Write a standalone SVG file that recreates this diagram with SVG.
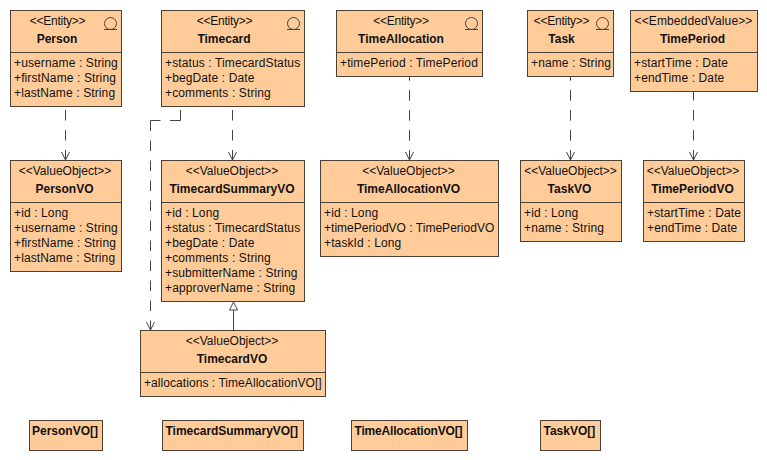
<svg xmlns="http://www.w3.org/2000/svg" width="767" height="460" viewBox="0 0 767 460">
<style>
.b{fill:#ffcc99;stroke:#4a4033;stroke-width:1}
.d{stroke:#4a4033;stroke-width:1;fill:none}
text{font-family:"Liberation Sans",Arial,sans-serif;font-size:12px;fill:#111}
.s{text-anchor:middle}
.e{letter-spacing:-.25px}
.n{text-anchor:middle;font-weight:bold}
.a{letter-spacing:.12px}
.m{font-weight:bold}
.c{stroke:#444;stroke-width:1;fill:none;stroke-dasharray:10.500 9.500}
.h{stroke:#444;stroke-width:1;fill:none}
.i{stroke:#444;stroke-width:1;fill:none}
</style>
<rect width="767" height="460" fill="#fff"/>
<g id="connectors">
<path class="c" d="M65.500 110V160"/><path class="h" d="M61.500 152L65.500 160L69.500 152"/>
<path class="c" d="M232.500 110V160"/><path class="h" d="M228.500 152L232.500 160L236.500 152"/>
<path class="c" d="M180.500 110V120.500M180.500 120.500H150.500M150.500 120.500V330"/><path class="h" d="M146.500 322L150.500 330L154.500 322"/>
<path class="c" stroke-dashoffset="6.800" d="M409.500 77V160"/><path class="h" d="M405.500 152L409.500 160L413.500 152"/>
<path class="c" stroke-dashoffset="6.800" d="M570.500 77V160"/><path class="h" d="M566.500 152L570.500 160L574.500 152"/>
<path class="c" stroke-dashoffset="2" d="M693.500 92V160"/><path class="h" d="M689.500 152L693.500 160L697.500 152"/>
<path class="h" d="M233.500 330V310"/><path d="M229.500 310L233.500 302L237.500 310Z" fill="#fff" stroke="#444"/>
</g>
<g id="person"><rect class="b" x="10.500" y="10.500" width="111" height="96"/><path class="d" d="M10.500 52.500H121.500"/><circle class="i" cx="110.500" cy="23.500" r="6"/><path class="i" d="M104 29.500H117"/><text class="s e" x="57.500" y="25">&lt;&lt;Entity&gt;&gt;</text><text class="n" x="57" y="43">Person</text><text class="a" x="14" y="67">+username : String</text><text class="a" x="14" y="82">+firstName : String</text><text class="a" x="14" y="97">+lastName : String</text></g>
<g id="timecard"><rect class="b" x="161.500" y="10.500" width="143" height="96"/><path class="d" d="M161.500 52.500H304.500"/><circle class="i" cx="293.500" cy="23.500" r="6"/><path class="i" d="M287 29.500H300"/><text class="s e" x="224.500" y="25">&lt;&lt;Entity&gt;&gt;</text><text class="n" x="224" y="43">Timecard</text><text class="a" x="165" y="67">+status : TimecardStatus</text><text class="a" x="165" y="82">+begDate : Date</text><text class="a" x="165" y="97">+comments : String</text></g>
<g id="timeallocation"><rect class="b" x="336.500" y="10.500" width="146" height="66"/><path class="d" d="M336.500 52.500H482.500"/><circle class="i" cx="471.500" cy="23.500" r="6"/><path class="i" d="M465 29.500H478"/><text class="s e" x="401" y="25">&lt;&lt;Entity&gt;&gt;</text><text class="n" x="401" y="43">TimeAllocation</text><text class="a" x="340" y="67">+timePeriod : TimePeriod</text></g>
<g id="task"><rect class="b" x="527.500" y="10.500" width="86" height="66"/><path class="d" d="M527.500 52.500H613.500"/><circle class="i" cx="602.500" cy="23.500" r="6"/><path class="i" d="M596 29.500H609"/><text class="s e" x="561.500" y="25">&lt;&lt;Entity&gt;&gt;</text><text class="n" x="561.500" y="43">Task</text><text class="a" x="531" y="67">+name : String</text></g>
<g id="timeperiod"><rect class="b" x="630.500" y="10.500" width="127" height="81"/><path class="d" d="M630.500 52.500H757.500"/><text class="s" x="693.500" y="25" letter-spacing=".12">&lt;&lt;EmbeddedValue&gt;&gt;</text><text class="n" x="692.500" y="43">TimePeriod</text><text class="a" x="634" y="67">+startTime : Date</text><text class="a" x="634" y="82">+endTime : Date</text></g>
<g id="personvo"><rect class="b" x="10.500" y="160.500" width="111" height="111"/><path class="d" d="M10.500 202.500H121.500"/><text class="s" x="65" y="175">&lt;&lt;ValueObject&gt;&gt;</text><text class="n" x="64.500" y="193">PersonVO</text><text class="a" x="14" y="217">+id : Long</text><text class="a" x="14" y="232">+username : String</text><text class="a" x="14" y="247">+firstName : String</text><text class="a" x="14" y="262">+lastName : String</text></g>
<g id="timecardsummaryvo"><rect class="b" x="161.500" y="160.500" width="143" height="141"/><path class="d" d="M161.500 202.500H304.500"/><text class="s" x="232" y="175">&lt;&lt;ValueObject&gt;&gt;</text><text class="n" x="232" y="193">TimecardSummaryVO</text><text class="a" x="165" y="217">+id : Long</text><text class="a" x="165" y="232">+status : TimecardStatus</text><text class="a" x="165" y="247">+begDate : Date</text><text class="a" x="165" y="262">+comments : String</text><text class="a" x="165" y="277">+submitterName : String</text><text class="a" x="165" y="292">+approverName : String</text></g>
<g id="timeallocationvo"><rect class="b" x="320.500" y="160.500" width="178" height="96"/><path class="d" d="M320.500 202.500H498.500"/><text class="s" x="408.500" y="175">&lt;&lt;ValueObject&gt;&gt;</text><text class="n" x="408.500" y="193">TimeAllocationVO</text><text class="a" x="324" y="217">+id : Long</text><text x="324" y="232" textLength="170.300">+timePeriodVO : TimePeriodVO</text><text class="a" x="324" y="247">+taskId : Long</text></g>
<g id="taskvo"><rect class="b" x="520.500" y="160.500" width="101" height="81"/><path class="d" d="M520.500 202.500H621.500"/><text class="s" x="570.500" y="175">&lt;&lt;ValueObject&gt;&gt;</text><text class="n" x="569.500" y="193">TaskVO</text><text class="a" x="524" y="217">+id : Long</text><text class="a" x="524" y="232">+name : String</text></g>
<g id="timeperiodvo"><rect class="b" x="643.500" y="160.500" width="101" height="81"/><path class="d" d="M643.500 202.500H744.500"/><text class="s" x="693" y="175">&lt;&lt;ValueObject&gt;&gt;</text><text class="n" x="692.500" y="193">TimePeriodVO</text><text class="a" x="647" y="217">+startTime : Date</text><text class="a" x="647" y="232">+endTime : Date</text></g>
<g id="timecardvo"><rect class="b" x="140.500" y="330.500" width="185" height="66"/><path class="d" d="M140.500 372.500H325.500"/><text class="s" x="232" y="345">&lt;&lt;ValueObject&gt;&gt;</text><text class="n" x="232" y="363">TimecardVO</text><text x="144" y="387" textLength="177.700">+allocations : TimeAllocationVO[]</text></g>
<g id="personvo-array"><rect class="b" x="29.500" y="420.500" width="73" height="30"/><text class="m" x="32" y="435">PersonVO[]</text></g>
<g id="timecardsummaryvo-array"><rect class="b" x="162.500" y="420.500" width="141" height="30"/><text class="m" x="165.500" y="435" textLength="132.500">TimecardSummaryVO[]</text></g>
<g id="timeallocationvo-array"><rect class="b" x="351.500" y="420.500" width="116" height="30"/><text class="m" x="354.500" y="435" textLength="108">TimeAllocationVO[]</text></g>
<g id="taskvo-array"><rect class="b" x="540.500" y="420.500" width="60" height="30"/><text class="m" x="543.500" y="435">TaskVO[]</text></g>
</svg>
